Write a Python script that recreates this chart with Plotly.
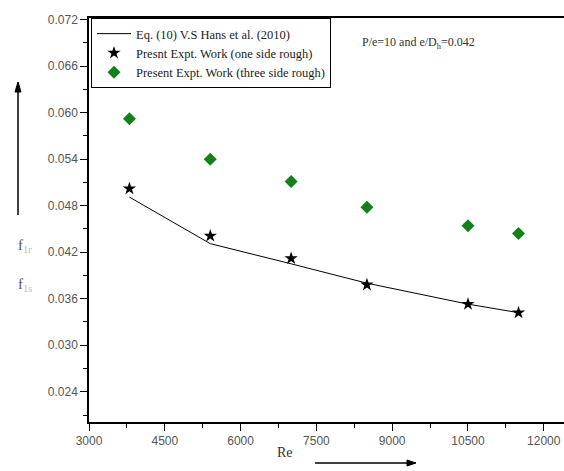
import plotly.graph_objects as go

re_vals = [3800, 5400, 7000, 8500, 10500, 11500]
eq_hans = [0.0491, 0.0431, 0.0405, 0.0380, 0.0353, 0.0342]
one_side = [0.0502, 0.0441, 0.0412, 0.0378, 0.0353, 0.0342]
three_side = [0.0592, 0.0540, 0.0511, 0.0478, 0.0454, 0.0444]

x_ticks = [3000, 4500, 6000, 7500, 9000, 10500, 12000]
y_ticks = [0.024, 0.030, 0.036, 0.042, 0.048, 0.054, 0.060, 0.066, 0.072]

W, H = 564, 471
L, R, T, B = 89, 0, 18, 49
pw, ph = W - L - R, H - T - B

def px(xp):
    return (xp - L) / pw

def py(yp):
    return (H - B - yp) / ph

fig = go.Figure()
fig.add_trace(go.Scatter(x=re_vals, y=eq_hans, mode="lines",
                         line=dict(color="black", width=1),
                         name="Eq. (10) V.S Hans et al. (2010)"))
fig.add_trace(go.Scatter(x=re_vals, y=one_side, mode="markers",
                         marker=dict(symbol="star", size=10, color="black"),
                         name="Presnt Expt. Work (one side rough)"))
fig.add_trace(go.Scatter(x=re_vals, y=three_side, mode="markers",
                         marker=dict(symbol="diamond", size=10, color="#13811a"),
                         name="Present Expt. Work (three side rough)"))

tickfont = dict(family="Liberation Sans", size=12, color="#555555")
fig.update_xaxes(range=[3000, 12400], tickvals=x_ticks,
                 ticktext=[str(v) for v in x_ticks],
                 ticks="outside", ticklen=7, tickcolor="black",
                 showline=True, linecolor="black", linewidth=1.5, mirror=True,
                 showgrid=False, zeroline=False, tickfont=tickfont,
                 minor=dict(dtick=750, tick0=3000, ticks="outside", ticklen=4,
                            tickcolor="black", showgrid=False))
fig.update_yaxes(range=[0.0201, 0.0722], tickvals=y_ticks,
                 ticktext=[f"{v:.3f}" for v in y_ticks],
                 ticks="outside", ticklen=7, tickcolor="black",
                 showline=True, linecolor="black", linewidth=1.5,
                 showgrid=False, zeroline=False, tickfont=tickfont,
                 minor=dict(dtick=0.003, tick0=0.024, ticks="outside", ticklen=4,
                            tickcolor="black", showgrid=False))

ann = [
    dict(text="P/e=10 and e/D<sub>h</sub>=0.042", x=px(477), y=py(33),
         xref="paper", yref="paper", showarrow=False,
         font=dict(family="Liberation Serif", size=12, color="#333333")),
    dict(text="Re", x=px(285), y=py(462), xref="paper", yref="paper",
         showarrow=False,
         font=dict(family="Liberation Serif", size=14, color="#333333")),
    dict(text="f<sub><span style='color:#bbbbbb'>1r</span></sub>",
         x=px(16), y=py(246), xref="paper", yref="paper", showarrow=False,
         font=dict(family="Liberation Serif", size=15, color="#555555")),
    dict(text="f<sub><span style='color:#bbbbbb'>1s</span></sub>",
         x=px(16), y=py(296), xref="paper", yref="paper", showarrow=False,
         font=dict(family="Liberation Serif", size=15, color="#555555")),
]

shapes = [
    dict(type="line", xref="paper", yref="paper",
         x0=px(315), y0=py(463), x1=px(410), y1=py(463),
         line=dict(color="black", width=1.3)),
    dict(type="path", xref="paper", yref="paper",
         path=f"M {px(416)} {py(463)} L {px(407)} {py(460)} L {px(407)} {py(466)} Z",
         fillcolor="black", line=dict(color="black", width=1)),
    dict(type="line", xref="paper", yref="paper",
         x0=px(18), y0=py(215), x1=px(18), y1=py(90),
         line=dict(color="black", width=1.5)),
    dict(type="path", xref="paper", yref="paper",
         path=f"M {px(18)} {py(82)} L {px(15)} {py(92)} L {px(21)} {py(92)} Z",
         fillcolor="black", line=dict(color="black", width=1)),
]

fig.update_layout(
    width=W, height=H,
    margin=dict(l=L, r=R, t=T, b=B),
    paper_bgcolor="white", plot_bgcolor="white",
    showlegend=True,
    legend=dict(x=px(91), y=1, xanchor="left", yanchor="top",
                bordercolor="black", borderwidth=1, bgcolor="white",
                font=dict(family="Liberation Serif", size=12.5, color="#222222"),
                tracegroupgap=0, itemwidth=34),
    annotations=ann,
    shapes=shapes,
)

fig.write_html("out.html")
